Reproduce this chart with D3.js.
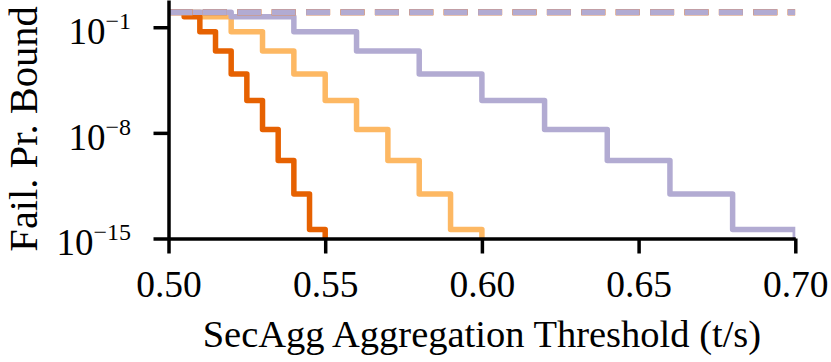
<!DOCTYPE html>
<html>
<head>
<meta charset="utf-8">
<script src="https://cdn.jsdelivr.net/npm/d3@7"></script>
<style>
  body { margin: 0; background: #fff; }
  svg text { font-family: "Liberation Serif", "Times New Roman", serif; fill: #000; }
</style>
</head>
<body>
<svg id="chart" width="831" height="362"></svg>
<script>
// step thresholds (t/s) and failure probability bounds
const darkX = [0.50, 0.505, 0.51, 0.515, 0.52, 0.525, 0.53, 0.535, 0.54, 0.545, 0.55, 0.70];
const lightX = [0.50, 0.51, 0.52, 0.53, 0.54, 0.55, 0.56, 0.57, 0.58, 0.59, 0.60, 0.70];
const purpleX = [0.50, 0.52, 0.54, 0.56, 0.58, 0.60, 0.62, 0.64, 0.66, 0.68, 0.70, 0.70];
const boundY = [1, 0.5, 5.1e-2, 2.7e-3, 7.9e-5, 1.4e-6, 1.7e-8, 1.5e-10, 8.9e-13, 4.0e-15, 1e-30, 1e-30];
const trivialX = [0.50, 0.70];
const trivialY = [1, 1];

const xTicks = [0.50, 0.55, 0.60, 0.65, 0.70];
const yTicks = [1e-1, 1e-8, 1e-15];
const yTickExp = ["1", "8", "15"];

const colors = { dark: "#e66101", light: "#fdb863", purple: "#b2abd2" };

const width = 831, height = 362;
const margin = { top: 0, right: 35.7, bottom: 123.5, left: 168.5 };
const plotW = width - margin.left - margin.right;
const plotH = height - margin.top - margin.bottom;

const svg = d3.select("#chart");

const x = d3.scaleLinear().domain([0.5, 0.7]).range([0, plotW]);
const y = d3.scaleLog().domain([1e-15, Math.pow(10, 0.805)]).range([plotH, 0]);

const g = svg.append("g")
    .attr("transform", `translate(${margin.left},${margin.top})`);

g.append("clipPath").attr("id", "plotClip")
    .append("rect")
    .attr("x", 0).attr("y", -5)
    .attr("width", plotW).attr("height", plotH + 5);

const plot = g.append("g").attr("clip-path", "url(#plotClip)");

function zipPts(xs, ys) {
    return xs.map(function(v, i) { return [v, ys[i]]; });
}

const stepLine = d3.line()
    .x(function(d) { return x(d[0]); })
    .y(function(d) { return y(d[1]); })
    .curve(d3.curveStepAfter);

// solid step lines, light first so dark sits over it, purple on top
const series = [
    { xs: lightX, color: colors.light },
    { xs: darkX, color: colors.dark },
    { xs: purpleX, color: colors.purple }
];

series.forEach(function(s) {
    plot.append("path")
        .datum(zipPts(s.xs, boundY))
        .attr("d", stepLine)
        .attr("fill", "none")
        .attr("stroke", s.color)
        .attr("stroke-width", 5.5)
        .attr("stroke-linejoin", "round")
        .attr("stroke-linecap", "square");
});

// dashed trivial bound, one per series
series.forEach(function(s) {
    plot.append("path")
        .datum(zipPts(trivialX, trivialY))
        .attr("d", stepLine)
        .attr("fill", "none")
        .attr("stroke", s.color)
        .attr("stroke-width", 6)
        .attr("stroke-dasharray", "24,10.4");
});

// x axis
const xAxis = g.append("g")
    .attr("transform", `translate(0,${plotH})`)
    .call(d3.axisBottom(x).tickValues(xTicks).tickFormat(d3.format(".2f")).tickSize(15).tickSizeOuter(0));

xAxis.selectAll("text")
    .attr("y", 58.2)
    .attr("dy", 0)
    .style("font-size", "37.5px");

// y axis
const yAxis = g.append("g")
    .call(d3.axisLeft(y).tickValues(yTicks).tickSize(15).tickSizeOuter(0).tickFormat(""));

yAxis.selectAll(".tick").each(function(d, i) {
    const t = d3.select(this).append("text")
        .attr("x", -37.5)
        .attr("y", 16.3)
        .attr("text-anchor", "end")
        .style("font-size", "37px");
    t.append("tspan").text("10");
    t.append("tspan")
        .attr("dy", -15)
        .style("font-size", "24px")
        .text("\u2212" + yTickExp[i]);
});

[xAxis, yAxis].forEach(function(a) {
    a.select(".domain").attr("stroke", "#000").attr("stroke-width", 3.5);
    a.selectAll(".tick line").attr("stroke", "#000").attr("stroke-width", 3.5);
});

// axis titles
svg.append("text")
    .attr("x", margin.left + plotW / 2)
    .attr("y", 346.7)
    .attr("text-anchor", "middle")
    .style("font-size", "38.5px")
    .text("SecAgg Aggregation Threshold (t/s)");

svg.append("text")
    .attr("transform", "translate(37,129) rotate(-90)")
    .attr("text-anchor", "middle")
    .style("font-size", "40.5px")
    .text("Fail. Pr. Bound");
</script>
</body>
</html>
